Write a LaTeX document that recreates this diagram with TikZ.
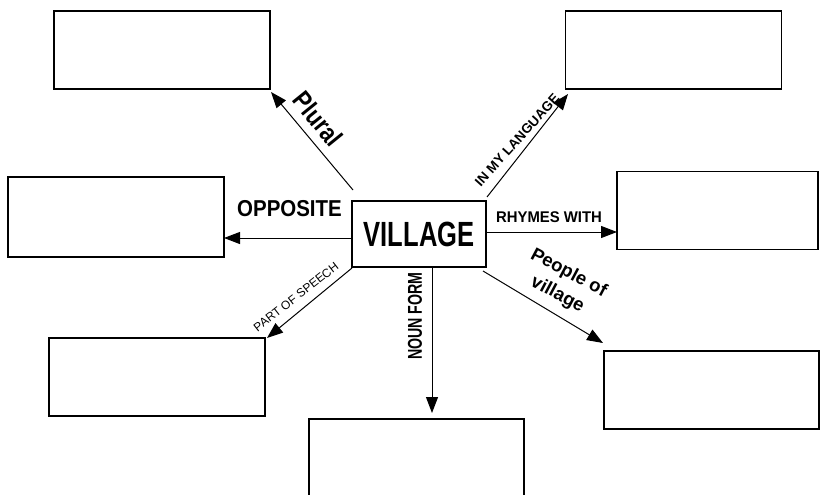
\documentclass[tikz,border=0pt]{standalone}
\usepackage{fontspec}
\setmainfont{Liberation Sans}
\usetikzlibrary{arrows.meta}
\newcommand{\squeeze}[2]{\scalebox{#1}[1]{#2}}
\begin{document}
\begin{tikzpicture}[x=1pt, y=-1pt,
    wbox/.style={draw, line width=1.4pt, minimum width=216pt, minimum height=78pt, inner sep=0pt},
    arr/.style={-{Triangle[length=16pt, width=12pt]}, line width=1pt},
    lbl/.style={inner sep=0pt, font=\bfseries}]
            \useasboundingbox (0, 0) rectangle (822, 495);

            % empty answer boxes
            \node[wbox] (plbox) at (162, 50) {};
            \node[wbox] (langbox) at (673.5, 50) {};
            \node[wbox, minimum height=80pt] (oppbox) at (116, 217) {};
            \node[wbox, minimum width=201pt] (rhymebox) at (717.5, 210.5) {};
            \node[wbox] (posbox) at (157, 377) {};
            \node[wbox, minimum width=215pt] (peoplebox) at (711.5, 390) {};
            \node[wbox, minimum width=215pt, minimum height=84pt] (nounbox) at (416.5, 461) {};

            % the word
            \node[wbox, minimum width=134pt, minimum height=66pt, font=\bfseries\fontsize{35}{40}\selectfont] (village) at (419, 234) {\squeeze{0.73}{VILLAGE}};

            \coordinate (plS) at (353, 190);
            \coordinate (plE) at (271, 92);
            \coordinate (lgS) at (487, 197);
            \coordinate (lgE) at (568, 94);
            \coordinate (opS) at (352, 238);
            \coordinate (opE) at (224, 238);
            \coordinate (rhS) at (486, 232);
            \coordinate (rhE) at (617, 232);
            \coordinate (psS) at (352, 268);
            \coordinate (psE) at (267, 338);
            \coordinate (nfS) at (432, 267);
            \coordinate (nfE) at (432, 413);
            \coordinate (ppS) at (483, 271);
            \coordinate (ppE) at (603, 343);

            \draw[arr] (plS) -- (plE);
            \draw[arr] (lgS) -- (lgE);
            \draw[arr] (opS) -- (opE);
            \draw[arr] (rhS) -- (rhE);
            \draw[arr] (psS) -- (psE);
            \draw[arr] (nfS) -- (nfE);
            \draw[arr] (ppS) -- (ppE);

            % labels on the arrows
            \node[lbl, rotate=-51, font=\bfseries\fontsize{26}{30}\selectfont] (plural) at (318, 119) {\squeeze{0.85}{Plural}};
            \node[lbl, rotate=48, font=\bfseries\fontsize{13.5}{16}\selectfont] (mylang) at (517, 140) {IN MY LANGUAGE};
            \node[lbl, font=\bfseries\fontsize{23}{27}\selectfont] (opposite) at (289.5, 209) {\squeeze{0.89}{OPPOSITE}};
            \node[lbl, font=\bfseries\fontsize{15.5}{18}\selectfont] (rhymes) at (549, 217.5) {\squeeze{0.96}{RHYMES WITH}};
            \node[lbl, rotate=38, font=\fontsize{12}{14}\selectfont] (speech) at (296, 297) {PART OF SPEECH};
            \node[lbl, rotate=90, font=\bfseries\fontsize{20}{24}\selectfont] (nounform) at (415, 316) {\squeeze{0.71}{NOUN FORM}};
            \node[lbl, rotate=-28, align=center, font=\bfseries\fontsize{18.5}{24}\selectfont] (people) at (563, 284) {People of\\village};

\end{tikzpicture}
\end{document}
